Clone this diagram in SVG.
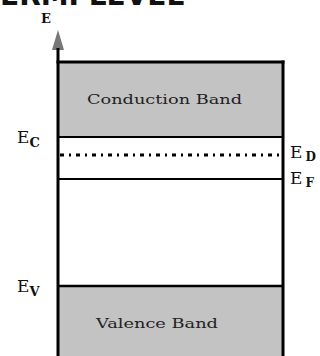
<svg xmlns="http://www.w3.org/2000/svg" width="320" height="356" viewBox="0 0 320 356">
<style>
.band{fill:#c3c3c3}
.lbl{font-family:"DejaVu Serif","Liberation Serif",serif;fill:#111}
.bt{font-family:"DejaVu Serif","Liberation Serif",serif;font-size:13px;fill:#222}
</style>
<rect width="320" height="356" fill="#fff"/>
<text x="0" y="5" font-family="DejaVu Sans, sans-serif" font-weight="bold" font-size="28" fill="#111">ERMI LEVEL</text>
<g id="bands">
<rect class="band" x="59" y="62" width="224" height="75"/>
<rect class="band" x="59" y="287" width="224" height="70"/>
</g>
<g id="axis">
<text class="lbl" x="41" y="23" font-size="13" font-weight="bold">E</text>
<polygon points="58,30 52,50 64,50" fill="#777"/>
</g>
<g id="connectors" stroke="#000" fill="none">
<line x1="58" y1="48" x2="58" y2="356" stroke-width="3"/>
<line x1="56.5" y1="62" x2="284.5" y2="62" stroke-width="3"/>
<line x1="283" y1="60.5" x2="283" y2="356" stroke-width="3"/>
<line x1="58" y1="137" x2="283" y2="137" stroke-width="2"/>
<line x1="60" y1="155" x2="281" y2="155" stroke-width="3" stroke-dasharray="4,5,2,5"/>
<line x1="58" y1="179" x2="283" y2="179" stroke-width="2"/>
<line x1="58" y1="286" x2="283" y2="286" stroke-width="2.5"/>
</g>
<g id="conduction">
<text class="bt" x="87" y="104" textLength="155" lengthAdjust="spacingAndGlyphs">Conduction Band</text>
</g>
<g id="valence">
<text class="bt" x="96" y="328" textLength="122" lengthAdjust="spacingAndGlyphs">Valence Band</text>
</g>
<g id="ec"><text class="lbl" x="17" y="143" font-size="17">E<tspan font-size="13" dy="4" font-weight="bold">C</tspan></text></g>
<g id="ed"><text class="lbl" x="290" y="158" font-size="17">E<tspan font-size="12" dx="3" dy="3" font-weight="bold">D</tspan></text></g>
<g id="ef"><text class="lbl" x="290" y="184" font-size="17">E<tspan font-size="12" dx="3" dy="3" font-weight="bold">F</tspan></text></g>
<g id="ev"><text class="lbl" x="17" y="292" font-size="17">E<tspan font-size="13" dy="4" font-weight="bold">V</tspan></text></g>
</svg>
